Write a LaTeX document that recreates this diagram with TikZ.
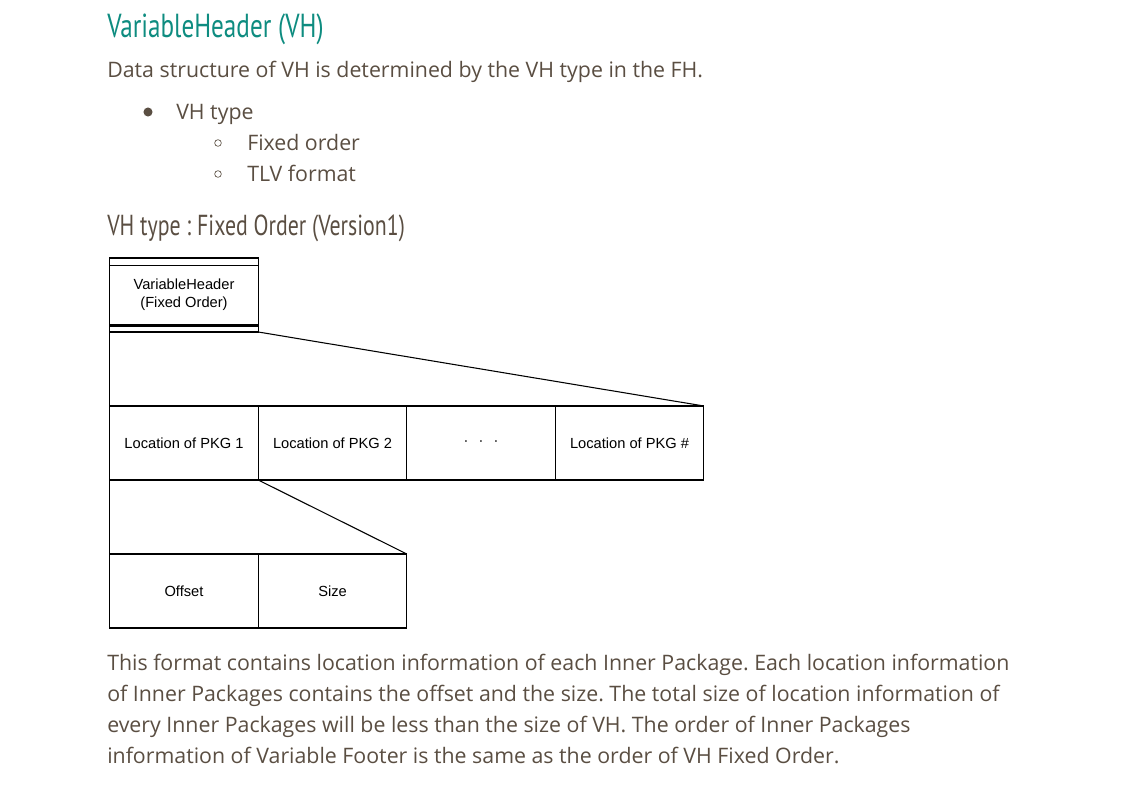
\documentclass[tikz,border=0pt]{standalone}
\usepackage{fontspec}
\setmainfont{Open Sans}
\newfontfamily\headfont[FakeStretch=0.755]{PT Sans}
\newfontfamily\boxfont{Liberation Sans}
\usetikzlibrary{positioning}
\usepackage{xcolor}
\definecolor{headteal}{HTML}{0E8C80}
\definecolor{bodytext}{HTML}{5A4E42}
\frenchspacing

\begin{document}
\begin{tikzpicture}[x=0.75pt,y=-0.75pt]
        % ================= styles =================
        \tikzset{
            % one field of the layout
            cell/.style={draw=black, line width=0.8pt, minimum width=111.4pt, minimum height=55.5pt,
                inner sep=0pt, outer sep=0pt, align=center, font=\boxfont\fontsize{11}{13.5}\selectfont},
            % headings
            title/.style={anchor=base west, inner sep=0pt, text=headteal, font=\headfont\fontsize{25}{30}\selectfont},
            subtitle/.style={anchor=base west, inner sep=0pt, text=bodytext, font=\headfont\fontsize{21.7}{26}\selectfont},
            % running text
            para/.style={anchor=base west, inner sep=0pt, text=bodytext, align=left, font=\fontsize{16}{23.25}\selectfont},
            fan/.style={draw=black, line width=0.8pt}
        }
        \useasboundingbox (0,0) rectangle (1145,785);

        % ================= text above =================
        \node[title] (head) at (107,37.5) {VariableHeader (VH)};
        \node[para] (intro) at (107,77) {Data structure of VH is determined by the VH type in the FH.};
        \fill[bodytext] (148,112) circle (3.4pt);
        \node[para] (vhtype) at (176,119) {VH type};
        \draw[bodytext, line width=0.5pt] (218,143) circle (2.5pt);
        \node[para] (fixed) at (247,150) {Fixed order};
        \draw[bodytext, line width=0.5pt] (218,174) circle (2.5pt);
        \node[para] (tlv) at (247,181) {TLV format};
        \node[subtitle] (sub) at (107,235.5) {VH type : Fixed Order (Version1)};

        % ================= layout =================
        \node[cell] (vh) at (184,295) {VariableHeader\\(Fixed Order)};
        \draw[line width=0.8pt] ([yshift=-5.5pt]vh.north west) -- ([yshift=-5.5pt]vh.north east);
        \draw[line width=0.8pt] ([yshift=4.5pt]vh.south west) -- ([yshift=4.5pt]vh.south east);
        \draw[line width=0.8pt] ([yshift=5.8pt]vh.south west) -- ([yshift=5.8pt]vh.south east);

        % locations of the inner packages
        \node[cell, below right=55.5pt and 0pt of vh.south west] (pkg1) {Location of PKG 1};
        \node[cell, right=0pt of pkg1] (pkg2) {Location of PKG 2};
        \node[cell, right=0pt of pkg2] (dots) {·\hspace{7.5pt}·\hspace{7.5pt}·};
        \node[cell, right=0pt of dots] (pkgn) {Location of PKG \#};
        \draw[fan] (vh.south west) -- (pkg1.north west);
        \draw[fan] (vh.south east) -- (pkgn.north east);

        % one location
        \node[cell, below right=55.5pt and 0pt of pkg1.south west] (offset) {Offset};
        \node[cell, right=0pt of offset] (size) {Size};
        \draw[fan] (pkg1.south west) -- (offset.north west);
        \draw[fan] (pkg1.south east) -- (size.north east);

        % ================= text below =================
        \node[para] (note) at (107,763) {This format contains location information of each Inner Package. Each location information\\
            of Inner Packages contains the offset and the size. The total size of location information of\\
            every Inner Packages will be less than the size of VH. The order of Inner Packages\\
            information of Variable Footer is the same as the order of VH Fixed Order.};

    \end{tikzpicture}
\end{document}
